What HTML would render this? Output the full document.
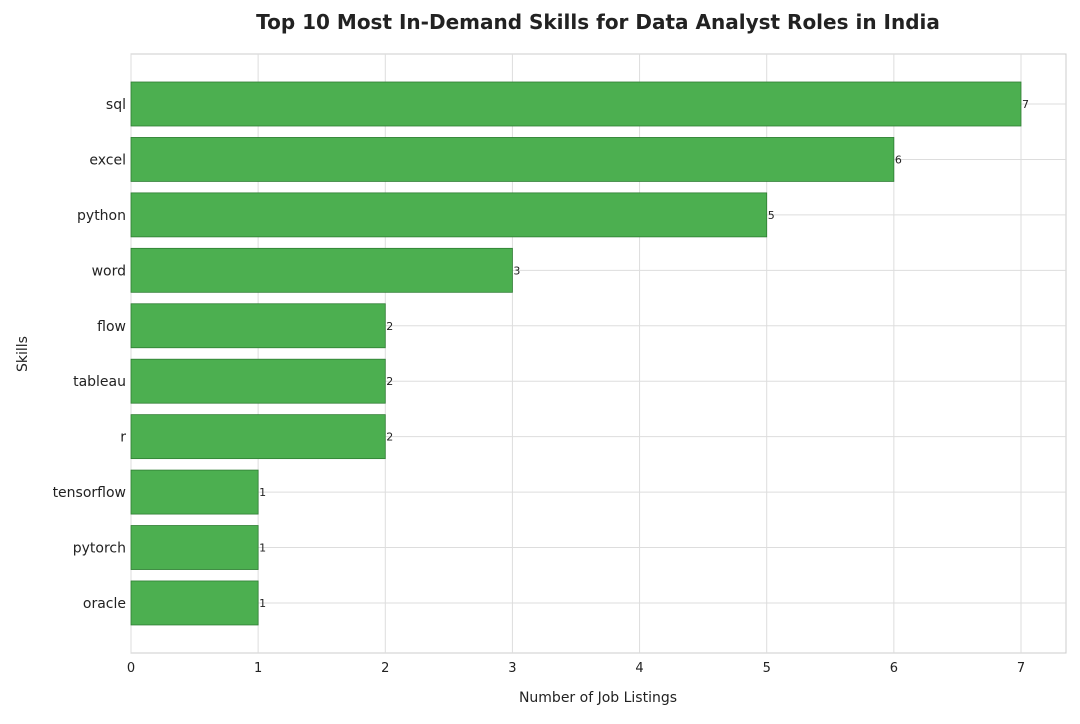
<!DOCTYPE html>
<html><head><meta charset="utf-8"><style>
body{margin:0;background:#fff;}
svg text{font-family:"DejaVu Sans","Liberation Sans",sans-serif;fill:#222;}
</style></head><body>
<svg id="c" width="1080" height="719">
<text x="598" y="29" text-anchor="middle" font-size="20" font-weight="bold">Top 10 Most In-Demand Skills for Data Analyst Roles in India</text>
<text x="598" y="702" text-anchor="middle" font-size="14">Number of Job Listings</text>
<text transform="translate(27,354) rotate(-90)" text-anchor="middle" font-size="14">Skills</text>
<g id="g"></g>
</svg>
<script>
const skills=["sql","excel","python","word","flow","tableau","r","tensorflow","pytorch","oracle"];
const counts=[7,6,5,3,2,2,2,1,1,1];
const xTicks=[0,1,2,3,4,5,6,7];
const L=131,R=1066,T=54,B=653,xMax=7.354;
const x=v=>L+v/xMax*(R-L);
const step=55.44,y0=104;
const y=i=>y0+i*step;
const NS="http://www.w3.org/2000/svg",g=document.getElementById('g');
function mk(t,a){const e=document.createElementNS(NS,t);for(const k in a)e.setAttribute(k,a[k]);g.appendChild(e);return e;}
const frame=mk('rect',{x:L,y:T,width:R-L,height:B-T,fill:'none',stroke:'#ccc','stroke-width':1});


xTicks.forEach(t=>{
 const l=mk('line',{x1:x(t),x2:x(t),y1:T,y2:B,stroke:'#ddd'});
 
 
 const tx=mk('text',{x:x(t),y:B+19,'text-anchor':'middle','font-size':13});
 tx.textContent=t;
 
 
});
skills.forEach((s,i)=>{
 const l=mk('line',{x1:L,x2:R,y1:y(i),y2:y(i),stroke:'#ddd'});
 
 
});
skills.forEach((s,i)=>{
 const b=mk('rect',{x:L,y:y(i)-22,width:x(counts[i])-L,height:44,fill:'#4caf50',stroke:'#2e7d32','stroke-width':0.8});
 
 
 const lb=mk('text',{x:L-5,y:y(i)+5,'text-anchor':'end','font-size':14});
 lb.textContent=s;
 
 
 const v=mk('text',{x:x(counts[i])+1,y:y(i)+4,'font-size':11});
 v.textContent=counts[i];
 
 
});
</script>
</body></html>
